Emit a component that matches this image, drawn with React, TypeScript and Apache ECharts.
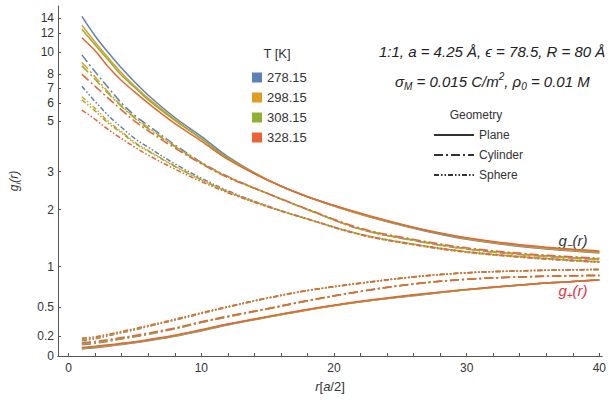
import React, { useEffect, useRef } from "react";
import * as echarts from "echarts";

// ---------- data ----------
const TEMPS = ["278.15", "298.15", "308.15", "328.15"];
const COLORS = ["#5e81b5", "#e19c24", "#8fb032", "#eb6235"];
const GEOMS = ["Plane", "Cylinder", "Sphere"];

const rValues = [1, 2, 3, 4, 5, 6, 8, 10, 12, 15, 18, 22, 26, 30, 35, 40];

// g-(r)
const planeMinus278 = [14.2, 11.7, 9.9, 8.5, 7.4, 6.5, 5.2, 4.3, 3.5, 2.75, 2.3, 1.9, 1.62, 1.42, 1.28, 1.2];
const planeMinus298 = [13.0, 11.0, 9.4, 8.1, 7.1, 6.3, 5.1, 4.2, 3.45, 2.75, 2.3, 1.9, 1.63, 1.43, 1.29, 1.21];
const planeMinus308 = [12.5, 10.7, 9.2, 7.9, 7.0, 6.2, 5.05, 4.2, 3.45, 2.75, 2.3, 1.91, 1.63, 1.44, 1.3, 1.22];
const planeMinus328 = [11.5, 10.1, 8.6, 7.5, 6.7, 6.0, 4.9, 4.1, 3.4, 2.74, 2.3, 1.92, 1.64, 1.45, 1.31, 1.23];

const cylMinus278 = [9.7, 8.2, 7.0, 6.0, 5.3, 4.8, 3.95, 3.3, 2.85, 2.38, 2.0, 1.6, 1.4, 1.26, 1.16, 1.1];
const cylMinus298 = [9.0, 7.8, 6.7, 5.85, 5.2, 4.7, 3.9, 3.28, 2.84, 2.38, 2.0, 1.6, 1.4, 1.26, 1.16, 1.1];
const cylMinus308 = [8.7, 7.6, 6.6, 5.8, 5.15, 4.65, 3.88, 3.27, 2.83, 2.38, 2.0, 1.61, 1.41, 1.27, 1.17, 1.11];
const cylMinus328 = [8.0, 7.1, 6.3, 5.6, 5.0, 4.55, 3.82, 3.25, 2.82, 2.38, 2.01, 1.62, 1.42, 1.28, 1.18, 1.12];

const sphMinus278 = [7.1, 6.1, 5.3, 4.7, 4.2, 3.85, 3.25, 2.8, 2.45, 2.08, 1.8, 1.5, 1.33, 1.21, 1.12, 1.06];
const sphMinus298 = [6.4, 5.7, 5.0, 4.5, 4.05, 3.72, 3.18, 2.76, 2.43, 2.07, 1.8, 1.5, 1.33, 1.21, 1.12, 1.06];
const sphMinus308 = [6.2, 5.55, 4.9, 4.45, 4.0, 3.7, 3.16, 2.75, 2.42, 2.07, 1.8, 1.51, 1.34, 1.22, 1.13, 1.07];
const sphMinus328 = [5.6, 5.1, 4.6, 4.2, 3.85, 3.55, 3.08, 2.7, 2.4, 2.06, 1.8, 1.51, 1.34, 1.22, 1.13, 1.07];

// g+(r)
const planePlus278 = [0.07, 0.082, 0.097, 0.113, 0.13, 0.15, 0.195, 0.25, 0.31, 0.39, 0.47, 0.56, 0.63, 0.7, 0.77, 0.82];
const planePlus298 = [0.075, 0.088, 0.102, 0.118, 0.135, 0.155, 0.2, 0.255, 0.315, 0.395, 0.47, 0.56, 0.635, 0.7, 0.77, 0.82];
const planePlus308 = [0.078, 0.09, 0.105, 0.12, 0.137, 0.157, 0.202, 0.257, 0.317, 0.395, 0.475, 0.56, 0.635, 0.7, 0.77, 0.82];
const planePlus328 = [0.085, 0.097, 0.11, 0.125, 0.142, 0.162, 0.207, 0.262, 0.32, 0.4, 0.475, 0.565, 0.64, 0.705, 0.77, 0.82];

const cylPlus278 = [0.11, 0.125, 0.145, 0.168, 0.19, 0.215, 0.27, 0.335, 0.395, 0.48, 0.57, 0.68, 0.77, 0.83, 0.865, 0.88];
const cylPlus298 = [0.118, 0.133, 0.152, 0.174, 0.196, 0.22, 0.274, 0.338, 0.398, 0.482, 0.571, 0.68, 0.77, 0.83, 0.865, 0.88];
const cylPlus308 = [0.122, 0.137, 0.155, 0.177, 0.198, 0.222, 0.276, 0.34, 0.4, 0.483, 0.572, 0.681, 0.771, 0.83, 0.865, 0.88];
const cylPlus328 = [0.13, 0.145, 0.163, 0.183, 0.204, 0.228, 0.28, 0.344, 0.403, 0.485, 0.574, 0.682, 0.772, 0.831, 0.866, 0.881];

const sphPlus278 = [0.15, 0.17, 0.2, 0.23, 0.26, 0.295, 0.36, 0.43, 0.5, 0.6, 0.69, 0.78, 0.86, 0.915, 0.945, 0.96];
const sphPlus298 = [0.16, 0.178, 0.206, 0.235, 0.265, 0.298, 0.363, 0.433, 0.502, 0.602, 0.69, 0.78, 0.86, 0.915, 0.945, 0.96];
const sphPlus308 = [0.165, 0.182, 0.21, 0.238, 0.268, 0.3, 0.365, 0.435, 0.503, 0.603, 0.691, 0.781, 0.861, 0.915, 0.945, 0.96];
const sphPlus328 = [0.178, 0.19, 0.217, 0.245, 0.274, 0.305, 0.37, 0.44, 0.507, 0.605, 0.693, 0.782, 0.862, 0.916, 0.946, 0.961];

// ticks
const yTickLabels = [0, 0.2, 0.5, 1, 2, 3, 5, 6, 7, 8, 10, 12, 14];
const xTickLabels = [0, 10, 20, 30, 40];
const xTickMarks = [0, 2, 4, 6, 8, 10, 12, 14, 16, 18, 20, 22, 24, 26, 28, 30, 32, 34, 36, 38, 40];

// ---------- styling ----------
const DASH: Record<string, any> = {
  Plane: "solid",
  Cylinder: [9, 3, 2, 3],
  Sphere: [5, 2, 1.5, 2, 1.5, 2],
};

const curves: { geom: string; t: number; values: number[] }[] = [
  { geom: "Plane", t: 0, values: planeMinus278 },
  { geom: "Plane", t: 1, values: planeMinus298 },
  { geom: "Plane", t: 2, values: planeMinus308 },
  { geom: "Plane", t: 3, values: planeMinus328 },
  { geom: "Cylinder", t: 0, values: cylMinus278 },
  { geom: "Cylinder", t: 1, values: cylMinus298 },
  { geom: "Cylinder", t: 2, values: cylMinus308 },
  { geom: "Cylinder", t: 3, values: cylMinus328 },
  { geom: "Sphere", t: 0, values: sphMinus278 },
  { geom: "Sphere", t: 1, values: sphMinus298 },
  { geom: "Sphere", t: 2, values: sphMinus308 },
  { geom: "Sphere", t: 3, values: sphMinus328 },
  { geom: "Plane", t: 0, values: planePlus278 },
  { geom: "Plane", t: 1, values: planePlus298 },
  { geom: "Plane", t: 2, values: planePlus308 },
  { geom: "Plane", t: 3, values: planePlus328 },
  { geom: "Cylinder", t: 0, values: cylPlus278 },
  { geom: "Cylinder", t: 1, values: cylPlus298 },
  { geom: "Cylinder", t: 2, values: cylPlus308 },
  { geom: "Cylinder", t: 3, values: cylPlus328 },
  { geom: "Sphere", t: 0, values: sphPlus278 },
  { geom: "Sphere", t: 1, values: sphPlus298 },
  { geom: "Sphere", t: 2, values: sphPlus308 },
  { geom: "Sphere", t: 3, values: sphPlus328 },
];

const FONT = "Liberation Sans";

export default function App() {
  const ref = useRef<HTMLDivElement>(null);
  useEffect(() => {
    if (!ref.current) return;
    const chart = echarts.init(ref.current, null, { renderer: "svg" });

    const yTickPos = yTickLabels.map((v) => Math.asinh(v));
    const yFmt = (v: number) => {
      let best = 0;
      let bd = Infinity;
      yTickLabels.forEach((t, i) => {
        const d = Math.abs(yTickPos[i] - v);
        if (d < bd) {
          bd = d;
          best = t;
        }
      });
      return String(best);
    };

    const series: any[] = curves.map((c) => ({
      type: "line",
      name: TEMPS[c.t],
      data: rValues.map((r, i) => [r, Math.asinh(c.values[i])]),
      symbol: "none",
      smooth: 0.35,
      color: COLORS[c.t],
      lineStyle: { width: 1.5, type: DASH[c.geom], color: COLORS[c.t] },
      z: 2,
    }));
    GEOMS.forEach((g) => {
      series.push({
        type: "line",
        name: g,
        data: [],
        symbol: "none",
        color: "#333",
        lineStyle: { width: 1.2, type: DASH[g], color: "#333" },
      });
    });

    const sub = { fontSize: 10, verticalAlign: "bottom", lineHeight: 20, fontStyle: "italic", fontFamily: FONT };
    const sup = { fontSize: 10, verticalAlign: "top", lineHeight: 20, fontStyle: "italic", fontFamily: FONT };
    const main = { fontSize: 15, lineHeight: 20, fontStyle: "italic", fontFamily: FONT };

    chart.setOption({
      animation: false,
      backgroundColor: "#fff",
      grid: { left: 53, right: 0, top: 6, bottom: 44 },
      legend: [
        {
          data: TEMPS,
          orient: "vertical",
          left: 247,
          top: 66,
          icon: "rect",
          itemWidth: 10,
          itemHeight: 10,
          itemGap: 7,
          selectedMode: false,
          itemStyle: { borderWidth: 0 },
          textStyle: { fontSize: 13, color: "#333", fontFamily: FONT, lineHeight: 13 },
        },
        {
          data: GEOMS,
          orient: "vertical",
          left: 428,
          top: 124,
          itemWidth: 40,
          itemHeight: 14,
          itemGap: 8,
          selectedMode: false,
          itemStyle: { opacity: 0 },
          textStyle: { fontSize: 12, color: "#333", fontFamily: FONT },
        },
      ],
      xAxis: [
        {
          type: "value",
          min: -0.8,
          max: 40.2,
          name: "{i|r}{n|[}{i|a}{n|/2]}",
          nameLocation: "middle",
          nameGap: 24,
          nameTextStyle: {
            rich: {
              i: { fontSize: 13, fontStyle: "italic", fontFamily: FONT, color: "#333" },
              n: { fontSize: 13, fontFamily: FONT, color: "#333" },
            },
          },
          axisLine: { show: true, onZero: false, lineStyle: { color: "#555", width: 1 } },
          axisTick: { show: true, inside: true, length: 3, customValues: xTickMarks, lineStyle: { color: "#555" } },
          axisLabel: { customValues: xTickLabels, color: "#333", fontSize: 12, fontFamily: FONT, margin: 6 },
          splitLine: { show: false },
        },
        {
          type: "value",
          position: "top",
          min: -0.8,
          max: 40.2,
          axisLine: { show: true, lineStyle: { color: "#555", width: 1 } },
          axisTick: { show: false },
          axisLabel: { show: false },
          splitLine: { show: false },
        },
      ],
      yAxis: {
        type: "value",
        min: 0,
        max: 3.45,
        name: "{i|g}{s|i}{i|(r)}",
        nameLocation: "middle",
        nameGap: 36,
        nameRotate: 90,
        nameTextStyle: {
          rich: {
            i: { fontSize: 12, fontStyle: "italic", fontFamily: FONT, color: "#333", lineHeight: 16 },
            s: { fontSize: 8, fontStyle: "italic", fontFamily: FONT, color: "#333", verticalAlign: "bottom", lineHeight: 16 },
          },
        },
        axisLine: { show: true, onZero: false, lineStyle: { color: "#555", width: 1 } },
        axisTick: { show: true, inside: true, length: 3, customValues: yTickPos, lineStyle: { color: "#555" } },
        axisLabel: { customValues: yTickPos, formatter: yFmt, color: "#333", fontSize: 12, fontFamily: FONT, margin: 4 },
        splitLine: { show: false },
      },
      graphic: [
        {
          type: "text",
          x: 277,
          y: 53,
          style: { text: "T [K]", align: "center", verticalAlign: "middle", font: `13px "${FONT}"`, fill: "#333" },
        },
        {
          type: "text",
          x: 379,
          y: 51,
          style: {
            text: "1:1, a = 4.25 Å, ϵ = 78.5, R = 80 Å",
            align: "left",
            verticalAlign: "middle",
            font: `italic 15px "${FONT}"`,
            fill: "#222",
          },
        },
        {
          type: "text",
          x: 395,
          y: 81,
          style: {
            text: "{m|σ}{s|M}{m| = 0.015 C/m}{p|2}{m|, ρ}{s|0}{m| = 0.01 M}",
            align: "left",
            verticalAlign: "middle",
            fill: "#222",
            rich: { m: main, s: sub, p: sup },
          },
        },
        {
          type: "text",
          x: 476,
          y: 115,
          style: { text: "Geometry", align: "center", verticalAlign: "middle", font: `12px "${FONT}"`, fill: "#333" },
        },
        {
          type: "text",
          x: 573,
          y: 240,
          style: {
            text: "{m|g}{s|−}{m|(r)}",
            align: "center",
            verticalAlign: "middle",
            fill: "#333",
            rich: { m: { ...main, fill: "#333" }, s: { ...sub, fill: "#333" } },
          },
        },
        {
          type: "text",
          x: 573,
          y: 290,
          style: {
            text: "{m|g}{s|+}{m|(r)}",
            align: "center",
            verticalAlign: "middle",
            fill: "#e8303c",
            rich: { m: { ...main, fill: "#e8303c" }, s: { ...sub, fill: "#e8303c" } },
          },
        },
      ],
      series,
    });
    return () => chart.dispose();
  }, []);
  return (
    <div
      ref={ref}
      style={{ position: "fixed", left: 0, top: 0, width: 609, height: 400, background: "#fff" }}
    />
  );
}
